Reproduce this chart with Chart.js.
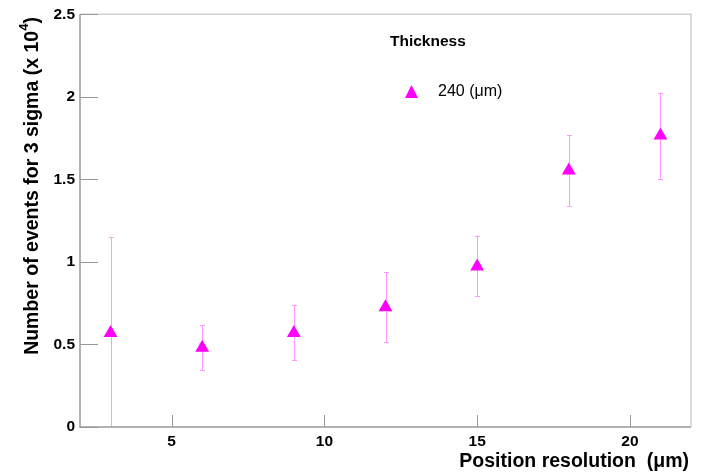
<!DOCTYPE html>
<html>
<head>
<meta charset="utf-8">
<script src="https://cdn.jsdelivr.net/npm/chart.js@4"></script>
<style>
  html, body { margin: 0; padding: 0; background: #fff; }
  #wrap { width: 706px; height: 475px; }
</style>
</head>
<body>
<div id="wrap"><canvas id="grafico" width="706" height="475"></canvas></div>
<script>
// resolução em µm
const resolucao = [3, 6, 9, 12, 15, 18, 21];
// número de eventos (x 10^4)
const eventos = [0.57, 0.48, 0.57, 0.725, 0.973, 1.554, 1.766];
const erroBaixo = [0.0, 0.343, 0.404, 0.513, 0.791, 1.34, 1.505];
const erroAlto = [1.152, 0.616, 0.737, 0.936, 1.16, 1.766, 2.026];

const xTicks = [5, 10, 15, 20];
const yTicks = [0, 0.5, 1, 1.5, 2, 2.5];

const fonte = '"Liberation Sans", Arial, sans-serif';
const magenta = '#ff00ff';

// barras de erro, marcas internas dos eixos, moldura, títulos e legenda
const extras = {
  id: 'extras',
  beforeDatasetsDraw(chart) {
    const { ctx, scales: { x, y } } = chart;
    ctx.save();
    ctx.strokeStyle = '#ff99ff';
    ctx.lineWidth = 1;
    resolucao.forEach((v, i) => {
      const px = Math.round(x.getPixelForValue(v)) + 0.5;
      const y1 = y.getPixelForValue(erroBaixo[i]);
      const y2 = y.getPixelForValue(erroAlto[i]);
      ctx.beginPath();
      ctx.moveTo(px, y1); ctx.lineTo(px, y2);
      if (erroBaixo[i] > 0) { ctx.moveTo(px - 2.5, Math.round(y1) + 0.5); ctx.lineTo(px + 2.5, Math.round(y1) + 0.5); }
      ctx.moveTo(px - 2.5, Math.round(y2) + 0.5); ctx.lineTo(px + 2.5, Math.round(y2) + 0.5);
      ctx.stroke();
    });
    ctx.restore();
  },
  afterDraw(chart) {
    const { ctx, chartArea: a, scales: { x, y } } = chart;
    ctx.save();
    // moldura
    ctx.lineWidth = 1.5;
    ctx.strokeStyle = '#d0d0d0';
    ctx.beginPath();
    ctx.moveTo(a.left, a.top); ctx.lineTo(a.right, a.top); ctx.lineTo(a.right, a.bottom);
    ctx.stroke();
    ctx.strokeStyle = '#999';
    ctx.beginPath();
    ctx.moveTo(a.left, a.top); ctx.lineTo(a.left, a.bottom); ctx.lineTo(a.right, a.bottom);
    ctx.stroke();
    // marcas
    ctx.lineWidth = 1;
    ctx.strokeStyle = '#999';
    ctx.beginPath();
    yTicks.forEach(v => {
      const py = Math.round(y.getPixelForValue(v)) + 0.5;
      ctx.moveTo(a.left, py); ctx.lineTo(a.left + 18, py);
    });
    xTicks.forEach(v => {
      const px = Math.round(x.getPixelForValue(v)) + 0.5;
      ctx.moveTo(px, a.bottom); ctx.lineTo(px, a.bottom - 12);
    });
    ctx.stroke();

    ctx.fillStyle = '#000';
    // título eixo x
    ctx.font = 'bold 19.5px ' + fonte;
    ctx.textAlign = 'right';
    ctx.textBaseline = 'middle';
    ctx.fillText('Position resolution  (\u03bcm)', a.right - 2, 462);

    // título eixo y com expoente
    ctx.translate(33, 186);
    ctx.rotate(-Math.PI / 2);
    const t1 = 'Number of events for 3 sigma (x 10';
    const t2 = ')';
    ctx.font = 'bold 19.5px ' + fonte;
    const w1 = ctx.measureText(t1).width;
    const w2 = ctx.measureText(t2).width;
    ctx.font = 'bold 13px ' + fonte;
    const ws = ctx.measureText('4').width;
    const total = w1 + ws + w2;
    ctx.textAlign = 'left';
    let sx = -total / 2;
    ctx.font = 'bold 19.5px ' + fonte;
    ctx.fillText(t1, sx, 0);
    sx += w1;
    ctx.font = 'bold 13px ' + fonte;
    ctx.fillText('4', sx, -9);
    sx += ws;
    ctx.font = 'bold 19.5px ' + fonte;
    ctx.fillText(t2, sx, 0);
    ctx.setTransform(1, 0, 0, 1, 0, 0);

    // legenda
    ctx.font = 'bold 15.5px ' + fonte;
    ctx.textAlign = 'left';
    ctx.fillText('Thickness', 390, 42);
    ctx.fillStyle = magenta;
    ctx.beginPath();
    ctx.moveTo(411.5, 85); ctx.lineTo(418, 98); ctx.lineTo(405, 98);
    ctx.closePath();
    ctx.fill();
    ctx.fillStyle = '#000';
    ctx.font = '16px ' + fonte;
    ctx.fillText('240 (\u03bcm)', 438, 92);
    ctx.restore();
  }
};

const config = {
  type: 'scatter',
  data: {
    datasets: [{
      label: '240 (\u03bcm)',
      data: resolucao.map((v, i) => ({ x: v, y: eventos[i] })),
      pointStyle: 'triangle',
      pointRadius: 8,
      backgroundColor: magenta,
      borderColor: magenta,
      borderWidth: 0
    }]
  },
  options: {
    responsive: false,
    animation: false,
    layout: { padding: { top: 14, right: 15, left: 0, bottom: 0 } },
    plugins: { legend: { display: false }, tooltip: { enabled: false } },
    scales: {
      x: {
        type: 'linear',
        min: 2, max: 22,
        afterBuildTicks: s => { s.ticks = xTicks.map(v => ({ value: v })); },
        afterFit: s => { s.height = 48; },
        grid: { display: false, drawTicks: false },
        border: { display: false },
        ticks: {
          padding: 5,
          color: '#000',
          font: { family: fonte, size: 15.5, weight: 'bold' },
          callback: v => String(v)
        }
      },
      y: {
        min: 0, max: 2.5,
        afterBuildTicks: s => { s.ticks = yTicks.map(v => ({ value: v })); },
        afterFit: s => { s.width = 80; },
        grid: { display: false, drawTicks: false },
        border: { display: false },
        ticks: {
          padding: 5,
          color: '#000',
          font: { family: fonte, size: 15.5, weight: 'bold' },
          callback: v => String(v)
        }
      }
    }
  },
  plugins: [extras]
};

window.onload = function() {
  const ctx = document.getElementById('grafico').getContext('2d');
  new Chart(ctx, config);
};
</script>
</body>
</html>
